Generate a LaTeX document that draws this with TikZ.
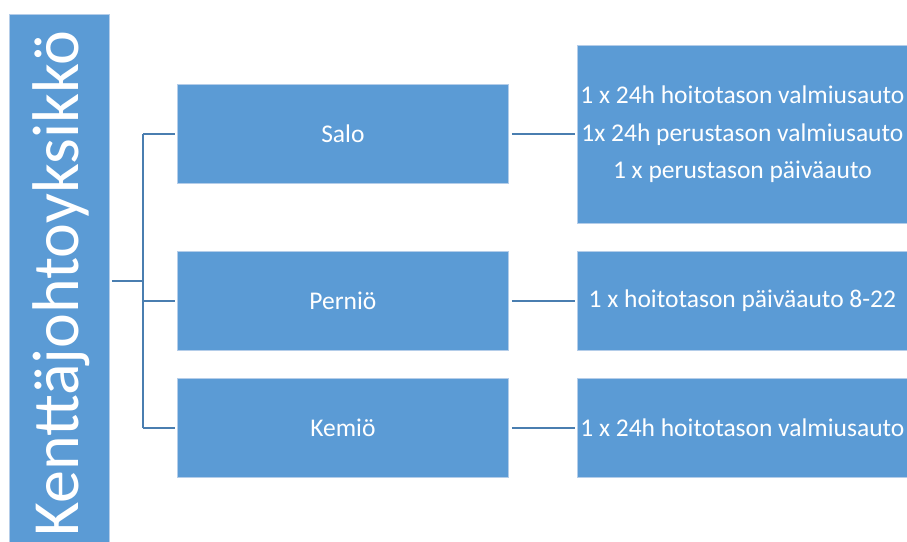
\documentclass[tikz,border=0pt]{standalone}
\usepackage{fontspec}
\setmainfont{Carlito}
\definecolor{boxblue}{HTML}{5B9BD5}
\definecolor{boxedge}{HTML}{B4CDE9}
\definecolor{linkblue}{HTML}{4A7EB0}
\begin{document}
\begin{tikzpicture}[x=1pt,y=-1pt,
  box/.style={rectangle, fill=boxblue, draw=boxedge, line width=0.8pt,
    anchor=north west, inner sep=0pt, text=white, align=center,
    font=\fontsize{25.5}{37.5}\selectfont},
  link/.style={draw=linkblue, line width=2pt}]
\useasboundingbox (0,0) rectangle (907,541);
\begin{scope}
\clip (0,0) rectangle (907,541);
% vertical title bar
\node[box, minimum width=100pt, minimum height=534pt] (kj) at (9,14) {};
\node[rotate=90, anchor=base west, inner sep=0pt, text=white,
  font=\fontsize{66}{66}\selectfont] (kjtext) at (78,537) {Kenttäjohtoyksikkö};
\end{scope}
% units
\node[box, minimum width=331pt, minimum height=99pt] (salo) at (177,84) {Salo};
\node[box, minimum width=331pt, minimum height=99pt] (pernio) at (177,251) {Perniö};
\node[box, minimum width=331pt, minimum height=99pt] (kemio) at (177,378) {Kemiö};
% vehicles
\node[box, minimum width=330pt, minimum height=178pt] (vsalo) at (577,45)
  {1 x 24h hoitotason valmiusauto\\1x 24h perustason valmiusauto\\1 x perustason päiväauto};
\node[box, minimum width=330pt, minimum height=99pt] (vpernio) at (577,251)
  {1 x hoitotason päiväauto 8-22};
\node[box, minimum width=330pt, minimum height=99pt] (vkemio) at (577,378)
  {1 x 24h hoitotason valmiusauto};
% tree connectors
\coordinate (trunk) at (143,281);
\draw[link] ([xshift=2pt]kj.east |- trunk) -- (trunk);
\draw[link] (trunk |- salo.west) -- (trunk |- kemio.west);
\draw[link, shorten >=2pt] (trunk |- salo.west) -- (salo.west);
\draw[link, shorten >=2pt] (trunk |- pernio.west) -- (pernio.west);
\draw[link, shorten >=2pt] (trunk |- kemio.west) -- (kemio.west);
\draw[link, shorten <=3pt, shorten >=2pt] (salo.east) -- (vsalo.west |- salo.east);
\draw[link, shorten <=3pt, shorten >=2pt] (pernio.east) -- (vpernio.west);
\draw[link, shorten <=3pt, shorten >=2pt] (kemio.east) -- (vkemio.west);
\end{tikzpicture}
\end{document}
